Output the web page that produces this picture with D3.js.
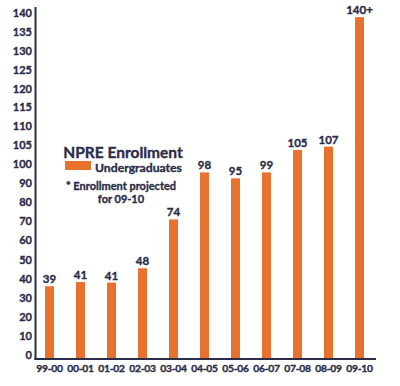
<!DOCTYPE html>
<html>
<head>
<meta charset="utf-8">
<script src="https://cdn.jsdelivr.net/npm/d3@7"></script>
<style>
  body { margin: 0; background: #fff; }
  text { font-family: Lato, "Open Sans", sans-serif; font-weight: bold; fill: #2b2c48; stroke: #2b2c48; stroke-width: 0.35px; }
</style>
</head>
<body>
<script>
// data
const years = ["99-00", "00-01", "01-02", "02-03", "03-04", "04-05", "05-06", "06-07", "07-08", "08-09", "09-10"];
const barValues = [36, 38.2, 37.9, 45.4, 71, 95.6, 92.5, 95.6, 103.7, 104.6, 138.9];
const barLabels = ["39", "41", "41", "48", "74", "98", "95", "99", "105", "107", "140+"];
const yTicks = [0, 10, 20, 30, 40, 50, 60, 70, 80, 90, 100, 105, 110, 115, 120, 125, 130, 135, 140];

const W = 400, H = 386;
const ink = "#2b2c48", orange = "#e9712e";
const axisY = 359, axisX = 35.5;

const svg = d3.select("body").append("svg")
    .attr("width", W)
    .attr("height", H);

// the y axis is stretched above 100 (steps of 5 instead of 10)
const y = d3.scaleLinear()
    .domain([0, 100, 140])
    .range([355, 164, 13]);

const x = d3.scaleBand()
    .domain(years)
    .range([34, 375])
    .paddingInner(0.71)
    .paddingOuter(0.355);

// bars
svg.selectAll("rect.bar")
    .data(years)
    .enter().append("rect")
    .attr("class", "bar")
    .attr("x", d => x(d))
    .attr("width", x.bandwidth())
    .attr("y", (d, i) => y(barValues[i]))
    .attr("height", (d, i) => axisY - y(barValues[i]))
    .attr("fill", orange);

// bar labels
svg.selectAll("text.val")
    .data(years)
    .enter().append("text")
    .attr("class", "val")
    .attr("x", d => x(d) + x.bandwidth() / 2)
    .attr("y", (d, i) => y(barValues[i]) - 3)
    .attr("text-anchor", "middle")
    .style("font-size", "11.5px")
    .text((d, i) => barLabels[i]);

// y axis labels
const yAxis = d3.axisLeft(y).tickValues(yTicks).tickSize(0).tickPadding(0);
const gy = svg.append("g").attr("transform", "translate(32,0)").call(yAxis);
gy.select(".domain").remove();
gy.selectAll("text")
    .style("font-size", "11px")
    .style("font-family", null)
    .attr("fill", ink);

// x axis labels
const xAxis = d3.axisBottom(x).tickSize(0).tickPadding(0);
const gx = svg.append("g").attr("transform", `translate(0,${axisY + 6})`).call(xAxis);
gx.select(".domain").remove();
gx.selectAll("text")
    .style("font-size", "10.3px")
    .style("letter-spacing", "-0.2px")
    .style("font-family", null)
    .attr("fill", ink);

// axis lines
svg.append("line")
    .attr("x1", axisX).attr("x2", axisX)
    .attr("y1", 7).attr("y2", axisY + 1)
    .attr("stroke", ink).attr("stroke-width", 2);
svg.append("line")
    .attr("x1", axisX - 1).attr("x2", 376)
    .attr("y1", axisY).attr("y2", axisY)
    .attr("stroke", ink).attr("stroke-width", 2);

// legend block
svg.append("text")
    .attr("x", 123).attr("y", 158)
    .attr("text-anchor", "middle")
    .style("font-size", "15.5px")
    .text("NPRE Enrollment");
svg.append("rect")
    .attr("x", 65).attr("y", 161)
    .attr("width", 26).attr("height", 9)
    .attr("fill", orange);
svg.append("text")
    .attr("x", 95).attr("y", 172)
    .style("font-size", "12.2px")
    .text("Undergraduates");
svg.append("text")
    .attr("x", 121).attr("y", 190)
    .attr("text-anchor", "middle")
    .style("font-size", "11px")
    .text("* Enrollment projected");
svg.append("text")
    .attr("x", 121).attr("y", 203)
    .attr("text-anchor", "middle")
    .style("font-size", "11px")
    .text("for 09-10");
</script>
</body>
</html>
